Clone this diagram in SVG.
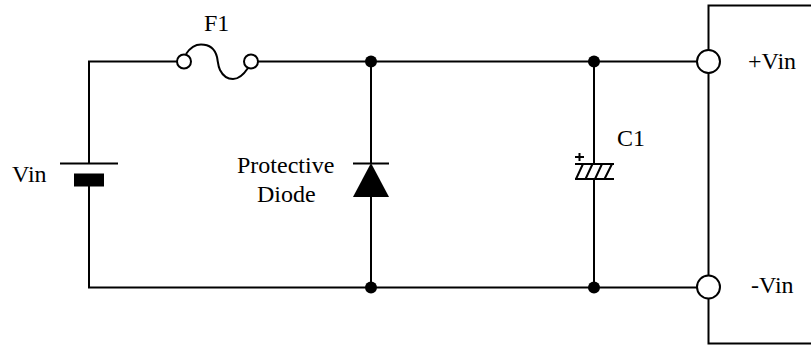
<svg xmlns="http://www.w3.org/2000/svg" width="811" height="345" viewBox="0 0 811 345">
<style>
.w{fill:none;stroke:#000;stroke-width:2}
.t{font-family:"Liberation Serif","Times New Roman",serif;font-size:24px;fill:#000}
.d{fill:#000}
.p{fill:#fff;stroke:#000;stroke-width:2}
</style>
<rect width="811" height="345" fill="#fff"/>
<g id="connectors">
<path class="w" d="M184 61.500H89V163M89 186V287.500H697"/>
<path class="w" d="M258 61.500H697"/>
<path class="w" d="M371 61.500V163M371 197V287.500"/>
<path class="w" d="M594 61.500V163M594 179V287.500"/>
<path class="w" d="M811 5.500H708.500V50M708.500 73V275M708.500 298V343.500H811"/>
</g>
<g id="fuse-F1">
<path class="w" d="M186 54C190 48 195 44.500 201 44.500C209 44.500 215 49 217 57C218 62 218 66 220 70C223 76 228 79 233 79C239 79 244 74 248 68"/>
<circle class="p" cx="184" cy="61.500" r="7"/>
<circle class="p" cx="251" cy="61.500" r="7"/>
<text class="t" x="204" y="31">F1</text>
</g>
<g id="battery-Vin">
<path class="w" d="M60 163.500H118"/>
<rect class="d" x="74" y="173.500" width="30" height="13"/>
<text class="t" x="12" y="182">Vin</text>
</g>
<g id="diode">
<path class="w" d="M353 163.500H389"/>
<path class="d" d="M371 163L389 197H353Z"/>
<text class="t" x="237" y="173">Protective</text>
<text class="t" x="257" y="202">Diode</text>
</g>
<g id="capacitor-C1">
<path class="w" d="M575 164H614M575 179H614"/>
<path class="w" d="M576 179L583 164M585.500 179L592.500 164M595 179L602 164M604.500 179L612 164"/>
<path class="w" d="M575 157H584M579.500 153V161"/>
<text class="t" x="617" y="146">C1</text>
</g>
<g id="terminal-plus-vin">
<circle class="p" cx="708.500" cy="61.500" r="11.500"/>
<text class="t" x="748" y="69">+Vin</text>
</g>
<g id="terminal-minus-vin">
<circle class="p" cx="708.500" cy="287" r="11.500"/>
<text class="t" x="751" y="293">-Vin</text>
</g>
<g id="junctions">
<circle class="d" cx="371" cy="61.500" r="6"/>
<circle class="d" cx="594" cy="61.500" r="6"/>
<circle class="d" cx="371" cy="287.500" r="6"/>
<circle class="d" cx="594" cy="287.500" r="6"/>
</g>
</svg>
